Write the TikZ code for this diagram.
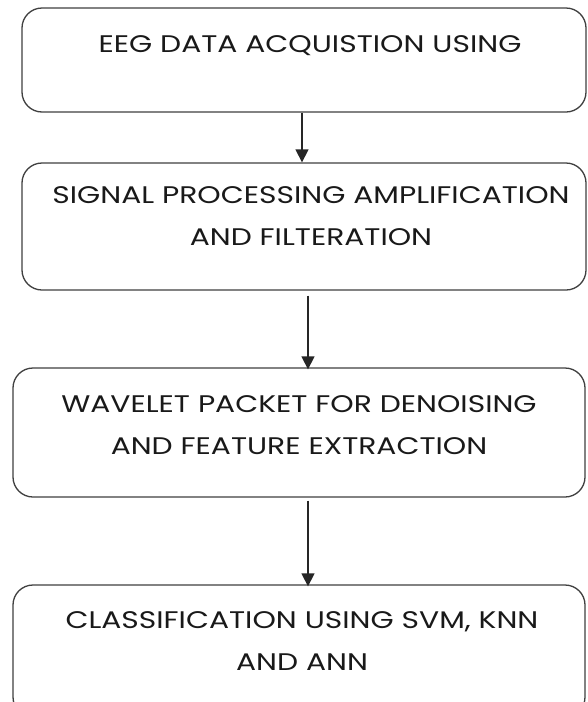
\documentclass[tikz,border=0pt]{standalone}
\usepackage{fontspec}
\setmainfont{Poppins}
\usetikzlibrary{arrows.meta}
\newcommand\widetxt[1]{\scalebox{1.24}[1]{#1}}
\begin{document}
\begin{tikzpicture}[x=1pt,y=-1pt,
  stepbox/.style={draw=black!75,line width=1.3pt,rounded corners=20pt,inner sep=0pt},
  steptext/.style={align=center,font=\fontsize{24}{42}\selectfont,text=black!90,inner sep=0pt},
  flow/.style={draw=black!85,line width=1.3pt,-{Triangle[width=13pt,length=13pt]}}]
\useasboundingbox (0,0) rectangle (588,702);
\clip (0,0) rectangle (588,702);
\fill[white] (0,0) rectangle (588,702);
\node[stepbox,minimum width=564pt,minimum height=104pt] (b1) at (304,60) {};
\node[stepbox,minimum width=564pt,minimum height=127pt] (b2) at (304,226.5) {};
\node[stepbox,minimum width=572pt,minimum height=129pt] (b3) at (299,432.5) {};
\node[stepbox,minimum width=572pt,minimum height=132pt] (b4) at (299,651) {};
\node[steptext] (t1) at (310,46) {\widetxt{EEG DATA ACQUISTION USING}};
\node[steptext] (t2) at (311,216) {\widetxt{SIGNAL PROCESSING AMPLIFICATION}\\\widetxt{AND FILTERATION}};
\node[steptext] (t3) at (299,425) {\widetxt{WAVELET PACKET FOR DENOISING}\\\widetxt{AND FEATURE EXTRACTION}};
\node[steptext] (t4) at (302,641) {\widetxt{CLASSIFICATION USING SVM, KNN}\\\widetxt{AND ANN}};
\draw[flow] ([xshift=-2pt]b1.south) -- ([xshift=-2pt]b2.north);
\draw[flow] ([xshift=4pt,yshift=-5pt]b2.south) -- ([xshift=9pt,yshift=-2pt]b3.north);
\draw[flow] ([xshift=9pt,yshift=-3pt]b3.south) -- ([xshift=9pt,yshift=-2pt]b4.north);
\end{tikzpicture}
\end{document}
